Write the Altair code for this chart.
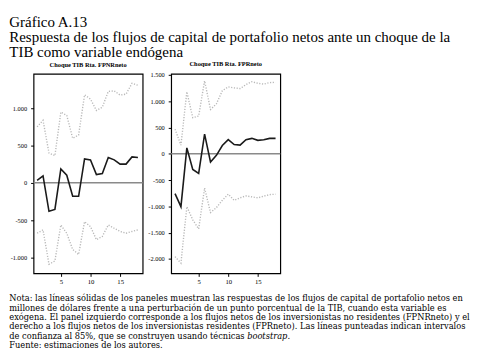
import altair as alt
import pandas as pd

# ---------------- data ----------------
horizon = list(range(1, 19))

left_resp = [31, 92, -383, -357, 185, 101, -181, -181, 320, 307, 110, 123, 338, 307, 250, 250, 346, 338]
left_upper = [750, 837, 399, 363, 947, 903, 596, 640, 1179, 1122, 969, 1013, 1224, 1232, 1175, 1188, 1333, 1307]
left_lower = [-676, -632, -1092, -1049, -566, -676, -895, -961, -522, -587, -763, -719, -566, -610, -653, -676, -653, -632]

right_resp = [-758, -1006, 112, -299, -373, 374, -156, -31, 156, 268, 175, 165, 268, 293, 255, 265, 293, 293]
right_upper = [468, 165, 1178, 686, 717, 1388, 842, 950, 1200, 1272, 1253, 1240, 1315, 1371, 1340, 1325, 1353, 1359]
right_lower = [-1956, -2080, -1006, -1257, -1428, -652, -1118, -1024, -885, -767, -885, -838, -801, -820, -838, -807, -776, -770]

left_title = "Choque TIB Rta. FPNRneto"
right_title = "Choque TIB Rta. FPRneto"
left_yticks = [-1000, -500, 0, 500, 1000]
right_yticks = [-2000, -1500, -1000, -500, 0, 500, 1000, 1500]
xticks = [5, 10, 15]

header_text = ("Gráfico A.13\n"
               "Respuesta de los flujos de capital de portafolio netos ante un choque de la\n"
               "TIB como variable endógena")
note_lines = [
    "Nota: las líneas sólidas de los paneles muestran las respuestas de los flujos de capital de portafolio netos en",
    "millones de dólares frente a una perturbación de un punto porcentual de la TIB, cuando esta variable es",
    "exógena. El panel izquierdo corresponde a los flujos netos de los inversionistas no residentes (FPNRneto) y el",
    "derecho a los flujos netos de los inversionistas residentes (FPRneto). Las líneas punteadas indican intervalos",
    "de confianza al 85%, que se construyen usando técnicas",
    "Fuente: estimaciones de los autores.",
]
italic_word = "bootstrap"

SERIF = "Liberation Serif, Times New Roman, serif"
NOTE_FONT = "DejaVu Serif, serif"
LABEL_EXPR = "(datum.value < 0 ? '-' : '') + replace(format(abs(datum.value), ','), ',', '.')"
LEFT_AXIS = 24.7   # width of the left panel's y-axis area
PLOT_H = 203
HEAD_FS = 15.2
HEAD_LH = 15.5
NOTE_FS = 8.4
NOTE_LH = 9.5
NOTE_Y0 = PLOT_H + 28.3   # first note baseline, measured from the top of the panels


def panel(resp, upper, lower, title, xdom, ydom, yticks, yext):
    df = pd.DataFrame({"t": horizon, "resp": resp, "upper": upper, "lower": lower})
    x = alt.X("t:Q", scale=alt.Scale(domain=xdom, nice=False, zero=False),
              axis=alt.Axis(values=xticks, title=None, grid=False, domain=False,
                            tickSize=3, tickColor="black", labelFont=SERIF,
                            labelFontSize=6.8, labelColor="black", labelPadding=2))
    yax = alt.Axis(values=yticks, title=None, grid=False, domain=False, tickSize=3,
                   tickColor="black", labelFont=SERIF, labelFontSize=6.5,
                   labelColor="black", labelPadding=4, labelExpr=LABEL_EXPR,
                   minExtent=yext, maxExtent=yext)
    yscale = alt.Scale(domain=ydom, nice=False, zero=False)
    base = alt.Chart(df)
    zero = alt.Chart(pd.DataFrame({"z": [0]})).mark_rule(color="#8a8a8a", strokeWidth=1.4).encode(
        y=alt.Y("z:Q", scale=yscale, axis=yax))
    up = base.mark_line(color="#b8b8b8", strokeWidth=1.4, strokeDash=[1.2, 1.6]).encode(
        x=x, y=alt.Y("upper:Q", scale=yscale, axis=yax))
    lo = base.mark_line(color="#b8b8b8", strokeWidth=1.4, strokeDash=[1.2, 1.6]).encode(
        x=x, y=alt.Y("lower:Q", scale=yscale, axis=yax))
    mid = base.mark_line(color="#1a1a1a", strokeWidth=1.6).encode(
        x=x, y=alt.Y("resp:Q", scale=yscale, axis=yax))
    return alt.layer(zero, up, lo, mid).properties(
        width=111, height=PLOT_H,
        title=alt.TitleParams(text=title, font=SERIF, fontSize=6.5, fontWeight="bold",
                              color="black", offset=5, anchor="middle"),
        view=alt.ViewBackground(stroke="black", strokeWidth=1.2),
    )


left = panel(left_resp, left_upper, left_lower, left_title, [0.4, 18.8], [-1215, 1460], left_yticks, LEFT_AXIS)
right = panel(right_resp, right_upper, right_lower, right_title, [0.35, 18.8], [-2275, 1520], right_yticks, 20)

header = alt.Chart(pd.DataFrame({"txt": [header_text]})).mark_text(
    align="left", baseline="alphabetic", font=SERIF, fontSize=HEAD_FS, lineHeight=HEAD_LH,
    lineBreak="\n", color="black").encode(
    text="txt:N", x=alt.value(-LEFT_AXIS), y=alt.value(13)).properties(width=440, height=61)

note_df = pd.DataFrame({"txt": ["\n".join(note_lines)]})
note = alt.Chart(note_df).mark_text(
    align="left", baseline="alphabetic", font=NOTE_FONT, fontSize=NOTE_FS, lineHeight=NOTE_LH,
    lineBreak="\n", color="black").encode(
    text="txt:N", x=alt.value(-LEFT_AXIS), y=alt.value(NOTE_Y0))
note_it = alt.Chart(pd.DataFrame({"txt": [italic_word + "."]})).mark_text(
    align="left", baseline="alphabetic", font=NOTE_FONT, fontSize=NOTE_FS, fontStyle="italic",
    color="black").encode(text="txt:N", x=alt.value(-LEFT_AXIS + 242),
                          y=alt.value(NOTE_Y0 + 4 * NOTE_LH))
notes = alt.layer(note, note_it).properties(width=440, height=60)

panels = alt.hconcat(left, right, spacing=29, bounds="flush")

chart = alt.vconcat(header, panels, notes, spacing=0, bounds="flush").properties(
    padding={"left": 0, "top": 2, "right": 0, "bottom": 0}).configure_view(
    stroke="transparent")

chart.save("out.html", embed_options={"renderer": "svg", "actions": False})
